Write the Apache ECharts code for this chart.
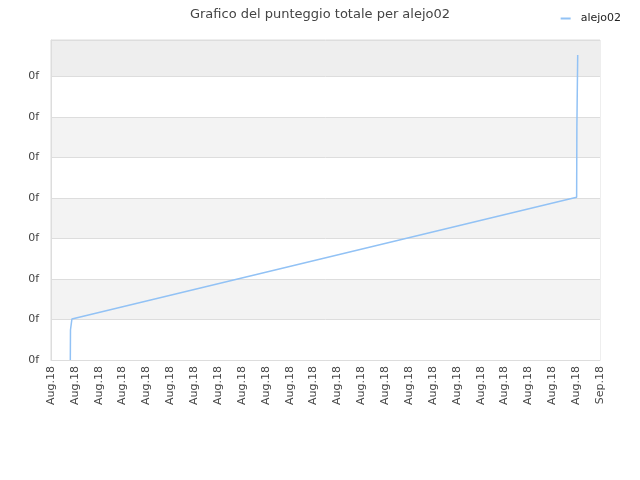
<!DOCTYPE html>
<html>
<head>
<meta charset="utf-8">
<script src="https://cdn.jsdelivr.net/npm/echarts@6/dist/echarts.min.js"></script>
<style>html,body{margin:0;padding:0;background:#fff;}#c{width:640px;height:480px;}</style>
</head>
<body>
<div id="c"></div>
<script>
var seriesName = 'alejo02';
var titleText = 'Grafico del punteggio totale per alejo02';
var times = [
  Date.UTC(2018, 7, 9, 19, 25),
  Date.UTC(2018, 7, 9, 19, 35),
  Date.UTC(2018, 7, 9, 21, 0),
  Date.UTC(2018, 7, 31, 0, 30),
  Date.UTC(2018, 7, 31, 0, 45),
  Date.UTC(2018, 7, 31, 1, 30),
  Date.UTC(2018, 7, 31, 1, 35)
];
var scores = [0, 7.4, 10.1, 40.2, 57.6, 57.6, 75.3];
var monthNames = ['Jan','Feb','Mar','Apr','May','Jun','Jul','Aug','Sep','Oct','Nov','Dec'];
var yLabel = '0f';

var DAY = 86400000;
var data = times.map(function (t, i) { return [t, scores[i]]; });

var chart = echarts.init(document.getElementById('c'));
chart.setOption({
  animation: false,
  backgroundColor: '#fff',
  title: {
    text: titleText,
    left: 'center',
    top: 3,
    textStyle: { fontFamily: 'DejaVu Sans', fontSize: 13, fontWeight: 'normal', color: '#444' }
  },
  legend: {
    right: 14,
    top: 8,
    icon: 'rect',
    itemWidth: 10,
    itemHeight: 2,
    itemGap: 10,
    textStyle: { fontFamily: 'DejaVu Sans', fontSize: 11, color: '#222', padding: [0, 0, 0, 5] },
    data: [seriesName]
  },
  grid: {
    left: 51, right: 40, top: 40, bottom: 120,
    show: true, borderColor: '#dddddd', borderWidth: 1,
    containLabel: false
  },
  xAxis: {
    type: 'value',
    min: Date.UTC(2018, 7, 9),
    max: Date.UTC(2018, 8, 1),
    interval: DAY,
    axisLine: { show: true, lineStyle: { color: '#dddddd' } },
    axisTick: { show: false },
    splitLine: { show: false },
    axisLabel: {
      rotate: 90,
      margin: 6,
      fontFamily: 'DejaVu Sans',
      fontSize: 11,
      color: '#444',
      formatter: function (v) {
        var d = new Date(v);
        return monthNames[d.getUTCMonth()] + '.' + String(d.getUTCFullYear()).slice(2);
      }
    }
  },
  yAxis: {
    type: 'value',
    min: 0,
    max: 79,
    interval: 10,
    axisLine: { show: true, lineStyle: { color: '#dddddd' } },
    axisTick: { show: false },
    splitLine: { show: true, lineStyle: { color: '#dddddd' } },
    splitArea: { show: true, areaStyle: { color: ['#ffffff','#f3f3f3','#ffffff','#f3f3f3','#ffffff','#f3f3f3','#ffffff','#eeeeee'] } },
    axisLabel: {
      showMaxLabel: false,
      margin: 12,
      fontFamily: 'DejaVu Sans',
      fontSize: 11,
      color: '#444',
      formatter: function () { return yLabel; }
    }
  },
  series: [{
    name: seriesName,
    type: 'line',
    data: data,
    showSymbol: false,
    symbol: 'none',
    color: '#92c2f5',
    lineStyle: { width: 1.5, color: '#92c2f5' }
  }]
});
</script>
</body>
</html>
